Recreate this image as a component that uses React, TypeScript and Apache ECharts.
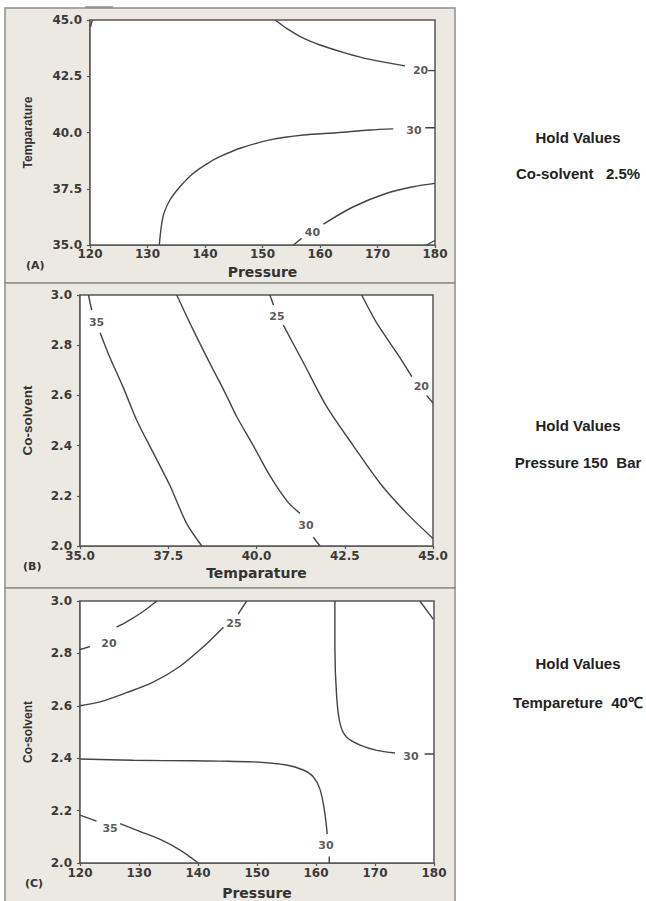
import React, { useEffect, useRef } from "react";
import * as echarts from "echarts";

type Pt = [number, number];
type Seg = Pt[];
type Lbl = [number, number, string];

// ---------- Panel A: Pressure (x) vs Temparature (y); Co-solvent held at 2.5% ----------
const A_X = { min: 120, max: 180, step: 10 };
const A_Y = { min: 35, max: 45, step: 2.5 };
const A_CONTOUR_10: Seg[] = [[[120.1, 44.7], [120.4, 45]]];
const A_CONTOUR_20: Seg[] = [
  [[152.2, 45], [154.2, 44.63], [157.1, 44.19], [160, 43.89], [164.6, 43.52], [168.7, 43.25], [174.8, 42.96]],
  [[178.8, 42.75], [180, 42.75]],
];
const A_CONTOUR_30: Seg[] = [
  [[132.05, 35], [132.7, 36.26], [133.9, 37.0], [135.65, 37.59], [137.97, 38.19], [140.9, 38.7], [142.6, 38.93],
   [146.1, 39.3], [151.3, 39.67], [157.1, 39.89], [162.9, 39.99], [168.7, 40.11], [172.75, 40.16]],
  [[178.3, 40.21], [180, 40.21]],
];
const A_CONTOUR_40: Seg[] = [
  [[155.4, 35], [156.8, 35.3]],
  [[160.6, 35.93], [165.8, 36.7], [171.6, 37.3], [176.2, 37.59], [180, 37.74]],
];
const A_CONTOUR_50: Seg[] = [[[178.5, 35], [180, 35.2]]];
const A_LABELS: Lbl[] = [[177.5, 42.75, "20"], [176.35, 40.11, "30"], [158.7, 35.55, "40"]];

// ---------- Panel B: Temparature (x) vs Co-solvent (y); Pressure held at 150 Bar ----------
const B_X = { min: 35, max: 45, step: 2.5 };
const B_Y = { min: 2, max: 3, step: 0.2 };
const B_CONTOUR_35: Seg[] = [
  [[35.24, 3.0], [35.33, 2.94]],
  [[35.57, 2.85], [35.85, 2.75], [36.23, 2.63], [36.61, 2.5], [37.08, 2.37], [37.55, 2.24], [38.02, 2.09], [38.45, 2.0]],
];
const B_CONTOUR_30: Seg[] = [
  [[37.74, 3.0], [38.21, 2.86], [38.78, 2.7], [38.97, 2.65], [39.25, 2.57], [39.44, 2.515], [39.91, 2.4],
   [40.38, 2.28], [40.86, 2.18], [41.23, 2.13]],
  [[41.61, 2.035], [41.8, 2.0]],
];
const B_CONTOUR_25: Seg[] = [
  [[40.38, 3.0], [40.48, 2.96]],
  [[40.76, 2.88], [41.33, 2.73], [41.99, 2.555], [42.74, 2.4], [43.5, 2.25], [44.26, 2.13], [45.0, 2.03]],
];
const B_CONTOUR_20: Seg[] = [
  [[42.98, 3.0], [43.4, 2.89], [43.97, 2.77], [44.4, 2.675]],
  [[44.82, 2.6], [45.0, 2.57]],
];
const B_LABELS: Lbl[] = [[35.47, 2.891, "35"], [41.4, 2.08, "30"], [40.58, 2.916, "25"], [44.67, 2.637, "20"]];

// ---------- Panel C: Pressure (x) vs Co-solvent (y); Temparature held at 40 °C ----------
const C_X = { min: 120, max: 180, step: 10 };
const C_Y = { min: 2, max: 3, step: 0.2 };
const C_CONTOUR_20: Seg[] = [
  [[133.0, 3.0], [130.7, 2.96], [127.9, 2.92], [126.2, 2.9]],
  [[121.7, 2.826], [120, 2.815]],
];
const C_CONTOUR_25: Seg[] = [
  [[120, 2.6], [123.4, 2.615], [127.9, 2.65], [132.4, 2.69], [136.9, 2.75], [140.9, 2.825], [144.3, 2.9]],
  [[146.8, 2.95], [148.25, 3.0]],
];
const C_CONTOUR_30_LOW: Seg[] = [
  [[120, 2.397], [129.0, 2.392], [139.2, 2.39], [143.7, 2.389], [149.4, 2.386], [155.0, 2.374], [157.85, 2.355],
   [159.5, 2.33], [160.7, 2.28], [161.5, 2.19], [161.9, 2.11]],
  [[162.25, 2.025], [162.25, 2.0]],
];
const C_CONTOUR_30_HIGH: Seg[] = [
  [[163.2, 3.0], [163.2, 2.825], [163.5, 2.635], [164.1, 2.53], [165.2, 2.48], [167.5, 2.45], [170.3, 2.43], [173.4, 2.42]],
  [[178.4, 2.416], [180, 2.416]],
];
const C_CONTOUR_35: Seg[] = [
  [[120, 2.183], [122.8, 2.16]],
  [[126.8, 2.15], [130.2, 2.12], [133.6, 2.09], [136.9, 2.05], [140.05, 2.0]],
];
const C_CONTOUR_CORNER: Seg[] = [[[177.6, 3.0], [179.9, 2.93]]];
const C_LABELS: Lbl[] = [[124.9, 2.838, "20"], [146.1, 2.915, "25"], [161.7, 2.065, "30"], [176.1, 2.405, "30"], [125.1, 2.132, "35"]];

const X_TITLES = ["Pressure", "Temparature", "Pressure"];
const Y_TITLES = ["Temparature", "Co-solvent", "Co-solvent"];
const PANEL_TAGS = ["(A)", "(B)", "(C)"];
const HOLD_TITLE = "Hold Values";
const HOLD_VALUES = ["Co-solvent   2.5%", "Pressure 150  Bar", "Tempareture  40\u2103"];

const LINE_COLOR = "#444444";
const AXIS_COLOR = "#555555";
const LABEL_COLOR = "#3a3a3a";
const PANEL_BG = "#ECE9E2";
const PANEL_BORDER = "#8d8d8d";

const GRIDS = [
  { left: 90, top: 20, width: 345, height: 225 },
  { left: 80, top: 295, width: 353, height: 251 },
  { left: 80, top: 601, width: 354, height: 262 },
];
const PANELS = [
  { x: 5, y: 8, w: 450, h: 275 },
  { x: 5, y: 283, w: 450, h: 305 },
  { x: 5, y: 588, w: 450, h: 318 },
];

export default function App() {
  const ref = useRef<HTMLDivElement>(null);
  useEffect(() => {
    if (!ref.current) return;
    const chart = echarts.init(ref.current, undefined, { renderer: "svg" });

    const lineSeries = (segs: Seg[], g: number) =>
      segs.map((seg) => ({
        type: "line",
        xAxisIndex: g,
        yAxisIndex: g,
        data: seg,
        showSymbol: false,
        symbol: "none",
        smooth: 0.3,
        silent: true,
        lineStyle: { color: LINE_COLOR, width: 1.4 },
      }));
    const labelSeries = (labels: Lbl[], g: number) => ({
      type: "scatter",
      xAxisIndex: g,
      yAxisIndex: g,
      data: labels.map((l) => ({ value: [l[0], l[1]], name: l[2] })),
      symbolSize: 2,
      itemStyle: { color: "rgba(255,255,255,0)" },
      silent: true,
      z: 5,
      label: {
        show: true,
        position: "inside",
        formatter: (p: any) => p.name,
        fontFamily: "DejaVu Sans",
        fontWeight: "bold",
        fontSize: 11,
        color: "#2e2e2e",
      },
    });

    const ranges = [
      [A_X, A_Y],
      [B_X, B_Y],
      [C_X, C_Y],
    ];
    const xNameGap = [20, 20, 23];
    const xLabelMargin = [3, 4, 4];
    const yNameGap = [56, 46, 46];
    const yNameSize = [12, 13.5, 12];

    const xAxis = ranges.map(([xr], i) => ({
      type: "value",
      gridIndex: i,
      min: xr.min,
      max: xr.max,
      interval: xr.step,
      name: X_TITLES[i],
      nameLocation: "middle",
      nameGap: xNameGap[i],
      nameTextStyle: { fontFamily: "DejaVu Sans", fontWeight: "bold", fontSize: 14, color: "#333" },
      axisLine: { show: true, lineStyle: { color: AXIS_COLOR, width: 1.5 } },
      axisTick: { show: true, inside: false, length: 3, lineStyle: { color: AXIS_COLOR, width: 1.2 } },
      axisLabel: {
        margin: xLabelMargin[i],
        fontFamily: "DejaVu Sans",
        fontWeight: "bold",
        fontSize: 12,
        color: LABEL_COLOR,
        formatter: (v: number) => (xr.step % 1 === 0 ? String(v) : v.toFixed(1)),
      },
      splitLine: { show: false },
    }));
    const yAxis = ranges.map(([, yr], i) => ({
      type: "value",
      gridIndex: i,
      min: yr.min,
      max: yr.max,
      interval: yr.step,
      name: Y_TITLES[i],
      nameLocation: "middle",
      nameGap: yNameGap[i],
      nameRotate: 90,
      nameTextStyle: { fontFamily: "Liberation Sans", fontWeight: "bold", fontSize: yNameSize[i], color: "#333" },
      axisLine: { show: true, lineStyle: { color: AXIS_COLOR, width: 1.5 } },
      axisTick: { show: true, inside: false, length: 3, lineStyle: { color: AXIS_COLOR, width: 1.2 } },
      axisLabel: {
        margin: 8,
        fontFamily: "DejaVu Sans",
        fontWeight: "bold",
        fontSize: 12,
        color: LABEL_COLOR,
        formatter: (v: number) => v.toFixed(1),
      },
      splitLine: { show: false },
    }));

    const graphic: any[] = [];
    PANELS.forEach((p) =>
      graphic.push({
        type: "rect",
        z: -10,
        shape: { x: p.x, y: p.y, width: p.w, height: p.h },
        style: { fill: PANEL_BG, stroke: PANEL_BORDER, lineWidth: 1.5 },
      })
    );
    graphic.push({ type: "line", z: -5, shape: { x1: 85, y1: 7, x2: 113, y2: 7 }, style: { stroke: "#8d8d8d", lineWidth: 1.5 } });
    const tagPos = [
      [26, 265],
      [23, 566],
      [25, 883],
    ];
    PANEL_TAGS.forEach((t, i) =>
      graphic.push({
        type: "text",
        x: tagPos[i][0],
        y: tagPos[i][1],
        style: { text: t, font: 'bold 11px "DejaVu Sans"', fill: "#333", verticalAlign: "middle", textVerticalAlign: "middle" },
      })
    );
    const holdY = [
      [137, 173],
      [425, 462],
      [663, 702],
    ];
    HOLD_VALUES.forEach((v, i) => {
      graphic.push({
        type: "text",
        x: 578,
        y: holdY[i][0],
        style: {
          text: HOLD_TITLE,
          font: 'bold 15px "Liberation Sans"',
          fill: "#222",
          align: "center",
          textAlign: "center",
          verticalAlign: "middle",
          textVerticalAlign: "middle",
        },
      });
      graphic.push({
        type: "text",
        x: 578,
        y: holdY[i][1],
        style: {
          text: v,
          font: 'bold 15px "Liberation Sans"',
          fill: "#222",
          align: "center",
          textAlign: "center",
          verticalAlign: "middle",
          textVerticalAlign: "middle",
        },
      });
    });

    const series: any[] = [
      ...lineSeries(A_CONTOUR_10, 0),
      ...lineSeries(A_CONTOUR_20, 0),
      ...lineSeries(A_CONTOUR_30, 0),
      ...lineSeries(A_CONTOUR_40, 0),
      ...lineSeries(A_CONTOUR_50, 0),
      labelSeries(A_LABELS, 0),
      ...lineSeries(B_CONTOUR_35, 1),
      ...lineSeries(B_CONTOUR_30, 1),
      ...lineSeries(B_CONTOUR_25, 1),
      ...lineSeries(B_CONTOUR_20, 1),
      labelSeries(B_LABELS, 1),
      ...lineSeries(C_CONTOUR_20, 2),
      ...lineSeries(C_CONTOUR_25, 2),
      ...lineSeries(C_CONTOUR_30_LOW, 2),
      ...lineSeries(C_CONTOUR_30_HIGH, 2),
      ...lineSeries(C_CONTOUR_35, 2),
      ...lineSeries(C_CONTOUR_CORNER, 2),
      labelSeries(C_LABELS, 2),
    ];

    chart.setOption({
      animation: false,
      backgroundColor: "#ffffff",
      grid: GRIDS.map((g) => ({
        ...g,
        show: true,
        z: 1,
        backgroundColor: "#ffffff",
        borderColor: AXIS_COLOR,
        borderWidth: 1.5,
        containLabel: false,
      })),
      xAxis,
      yAxis,
      series,
      graphic,
    });
    return () => chart.dispose();
  }, []);

  return <div ref={ref} style={{ position: "absolute", left: 0, top: 0, width: 646, height: 901 }} />;
}
